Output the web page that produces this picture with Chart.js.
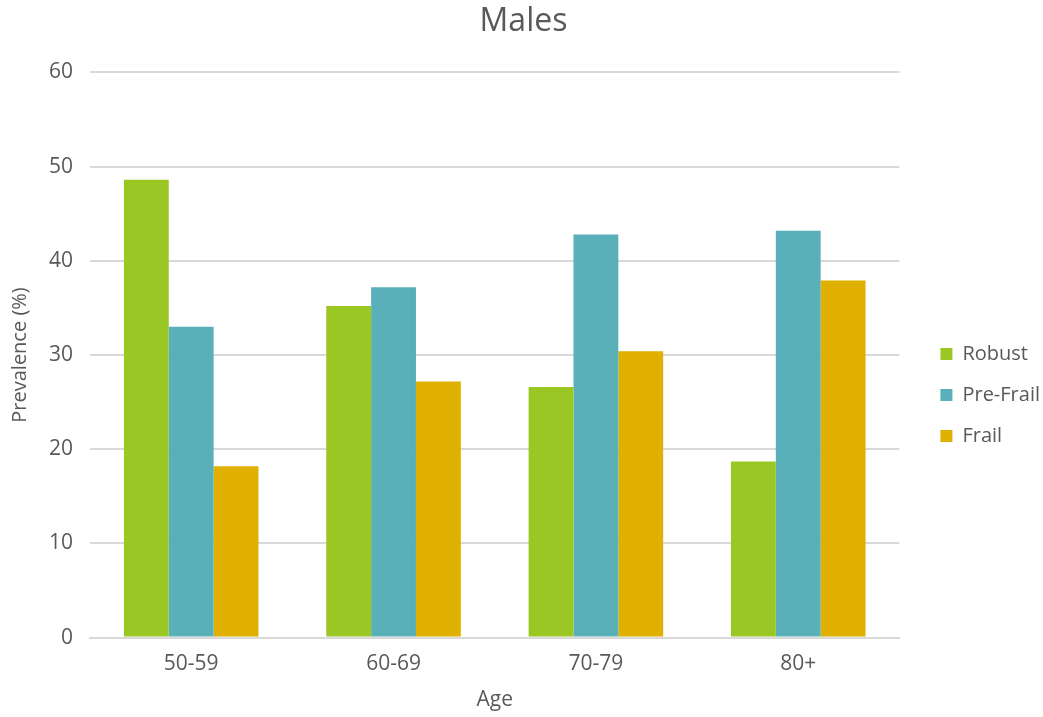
<!DOCTYPE html>
<html>
<head>
<meta charset="utf-8">
<script src="https://cdn.jsdelivr.net/npm/chart.js@4"></script>
<style>
  html, body { margin: 0; padding: 0; background: #fff; }
  #wrap { width: 1043px; height: 717px; }
</style>
</head>
<body>
<div id="wrap"><canvas id="myChart" width="1043" height="717"></canvas></div>
<script>
// data
const ageGroups = ['50-59', '60-69', '70-79', '80+'];
const robust = [48.6, 35.2, 26.6, 18.7];
const preFrail = [33.0, 37.2, 42.8, 43.2];
const frail = [18.2, 27.2, 30.4, 37.9];

const textColor = '#595959';
const fontFamily = "'Open Sans', 'DejaVu Sans', sans-serif";

// extra room between plot and legend (legend box grows, items shifted right)
const legendGap = {
    id: 'legendGap',
    beforeInit(chart) {
        const fit = chart.legend.fit;
        chart.legend.fit = function () {
            fit.call(this);
            this.width += 13;
        };
    },
    afterLayout(chart) {
        chart.legend.left += 20;
        chart.legend.right += 20;
    }
};

const ctx = document.getElementById('myChart').getContext('2d');
const myChart = new Chart(ctx, {
    type: 'bar',
    data: {
        labels: ageGroups,
        datasets: [
            { label: 'Robust', data: robust, backgroundColor: '#9BC724' },
            { label: 'Pre-Frail', data: preFrail, backgroundColor: '#5AB0B9' },
            { label: 'Frail', data: frail, backgroundColor: '#DFB000' }
        ]
    },
    plugins: [legendGap],
    options: {
        responsive: false,
        animation: false,
        layout: { padding: { left: 4, right: 0, top: 3, bottom: 0 } },
        datasets: { bar: { categoryPercentage: 0.665, barPercentage: 1.0 } },
        plugins: {
            title: {
                display: true,
                text: 'Males',
                color: textColor,
                font: { family: fontFamily, size: 32, weight: 'normal' },
                padding: { top: 0, bottom: 31 }
            },
            legend: {
                position: 'right',
                labels: {
                    color: textColor,
                    font: { family: fontFamily, size: 20 },
                    boxWidth: 12,
                    boxHeight: 12,
                    padding: 21
                },
                // blank legend title pushes the items down a bit
                title: { display: true, text: ' ', font: { size: 10 }, padding: 29 }
            },
            tooltip: { enabled: false }
        },
        scales: {
            x: {
                grid: { display: false, drawTicks: false },
                border: { color: '#d9d9d9', width: 2 },
                ticks: { color: textColor, font: { family: fontFamily, size: 21 }, padding: 14 },
                title: { display: true, text: 'Age', color: textColor, font: { family: fontFamily, size: 21 }, padding: { top: -3 } }
            },
            y: {
                min: 0,
                max: 60,
                grid: { color: '#d9d9d9', lineWidth: 2, drawTicks: false },
                border: { display: false },
                ticks: { stepSize: 10, color: textColor, font: { family: fontFamily, size: 21 }, padding: 17 },
                title: { display: true, text: 'Prevalence (%)', color: textColor, font: { family: fontFamily, size: 20 }, padding: { bottom: 0 } }
            }
        }
    }
});
</script>
</body>
</html>
